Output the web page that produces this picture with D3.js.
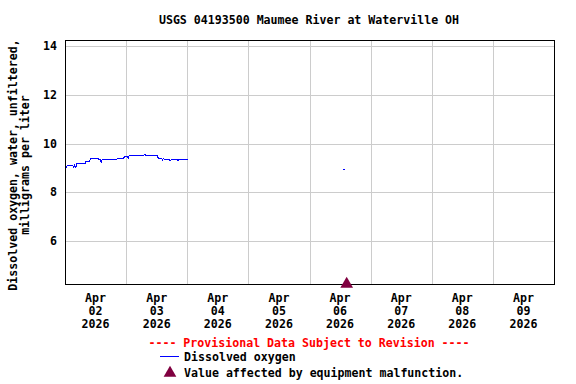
<!DOCTYPE html>
<html lang="en">
<head>
<meta charset="utf-8">
<title>USGS 04193500 Maumee River at Waterville OH</title>
<script src="https://cdn.jsdelivr.net/npm/d3@7"></script>
<style>
  body { margin: 0; background: #fff; }
  svg text { font-family: "DejaVu Sans Mono", "Liberation Mono", monospace; font-weight: bold; font-size: 11.6px; }
  .grid line { stroke: #cccccc; shape-rendering: crispEdges; }
  .grid path { display: none; }
  .series { shape-rendering: crispEdges; }
</style>
</head>
<body>
<script>
// hours after 2026-04-02 00:00 and dissolved oxygen (mg/L)
var hours = [0, 0.5, 1, 3, 3.5, 3.8, 4.3, 4.7, 8.0, 8.3, 9.6, 9.9, 10.5, 13, 13.2, 14, 14.2, 14.5,
  20.2, 20.5, 23, 23.3, 24.5, 24.8, 25.2, 31, 31.3, 31.7, 36.3, 36.6, 38, 38.3, 38.6, 39.3,
  41, 41.3, 41.8, 44, 44.3, 44.6, 48.3];
var oxygen = [9.10, 9.03, 9.12, 9.12, 9.02, 9.12, 9.02, 9.20, 9.20, 9.28, 9.28, 9.36, 9.40, 9.40, 9.33, 9.33, 9.22, 9.33,
  9.33, 9.38, 9.38, 9.46, 9.46, 9.40, 9.52, 9.52, 9.56, 9.52, 9.52, 9.40, 9.40, 9.33, 9.40, 9.34,
  9.34, 9.30, 9.34, 9.34, 9.30, 9.34, 9.34];
// lone reading on Apr 06
var loneHours = [109.3, 109.8];
var loneOxygen = [8.92, 8.92];
// equipment malfunction marker
var malfunctionHours = [110.6];
var yTicks = [6, 8, 10, 12, 14];
var dayLabels = ['2026-04-02', '2026-04-03', '2026-04-04', '2026-04-05', '2026-04-06', '2026-04-07', '2026-04-08', '2026-04-09'];

var width = 576, height = 384;
var margin = {left: 65, right: 22, top: 40, bottom: 100};
var start = Date.UTC(2026, 3, 2);
function toDate(h) { return new Date(start + h * 3600000); }

var svg = d3.select('body').append('svg')
  .attr('width', width)
  .attr('height', height);

var x = d3.scaleUtc()
  .domain([new Date(Date.UTC(2026, 3, 2)), new Date(Date.UTC(2026, 3, 10))])
  .range([margin.left, width - margin.right]);
var y = d3.scaleLinear()
  .domain([4.24, 14.25])
  .range([height - margin.bottom, margin.top]);

// grid
svg.append('g')
  .attr('class', 'grid')
  .attr('transform', 'translate(' + margin.left + ',0)')
  .call(d3.axisLeft(y).tickValues(yTicks).tickSize(-(width - margin.left - margin.right)).tickFormat(''));
svg.append('g')
  .attr('class', 'grid')
  .attr('transform', 'translate(0,' + margin.top + ')')
  .call(d3.axisBottom(x).ticks(d3.utcDay.every(1)).tickSize(height - margin.top - margin.bottom).tickFormat(''));

// y labels
svg.selectAll('.ylab')
  .data(yTicks)
  .enter()
  .append('text')
  .attr('class', 'ylab')
  .attr('x', 57)
  .attr('y', function(d) { return y(d) + 4; })
  .attr('text-anchor', 'end')
  .text(function(d) { return d; });

// x labels at noon of each day
var fmtMon = d3.utcFormat('%b'), fmtDay = d3.utcFormat('%d'), fmtYear = d3.utcFormat('%Y');
var xl = svg.selectAll('.xlab')
  .data(dayLabels)
  .enter()
  .append('text')
  .attr('class', 'xlab')
  .attr('text-anchor', 'middle')
  .attr('transform', function(d) {
    var t = new Date(d + 'T12:00:00Z');
    return 'translate(' + x(t) + ',0)';
  });
xl.each(function(d) {
  var t = new Date(d + 'T12:00:00Z');
  var sel = d3.select(this);
  sel.append('tspan').attr('x', 0).attr('y', 302).text(fmtMon(t));
  sel.append('tspan').attr('x', 0).attr('y', 315).text(fmtDay(t));
  sel.append('tspan').attr('x', 0).attr('y', 328).text(fmtYear(t));
});

// data line
var line = d3.line()
  .x(function(d) { return x(toDate(d[0])); })
  .y(function(d) { return y(d[1]); });
svg.append('path')
  .datum(d3.zip(hours, oxygen))
  .attr('class', 'series')
  .attr('d', line)
  .attr('fill', 'none')
  .attr('stroke', '#0000ff')
  .attr('stroke-width', 1);
svg.append('path')
  .datum(d3.zip(loneHours, loneOxygen))
  .attr('class', 'series')
  .attr('d', line)
  .attr('fill', 'none')
  .attr('stroke', '#0000ff')
  .attr('stroke-width', 1);

// frame
svg.append('rect')
  .attr('x', margin.left)
  .attr('y', margin.top)
  .attr('width', width - margin.left - margin.right)
  .attr('height', height - margin.top - margin.bottom)
  .attr('fill', 'none')
  .attr('stroke', '#000')
  .attr('stroke-width', 1)
  .attr('shape-rendering', 'crispEdges');

// malfunction markers
var tri = d3.symbol().type(d3.symbolTriangle).size(70);
svg.selectAll('.mal')
  .data(malfunctionHours)
  .enter()
  .append('path')
  .attr('class', 'mal')
  .attr('d', tri)
  .attr('transform', function(d) { return 'translate(' + x(toDate(d)) + ',' + (y.range()[0]) + ')'; })
  .attr('fill', '#800040');

// title
svg.append('text')
  .attr('x', 309)
  .attr('y', 24)
  .attr('text-anchor', 'middle')
  .text('USGS 04193500 Maumee River at Waterville OH');

// y title
var yt = svg.append('text')
  .attr('text-anchor', 'middle')
  .attr('transform', 'translate(0,165) rotate(-90)');
yt.append('tspan').attr('x', 0).attr('y', 17).text('Dissolved oxygen, water, unfiltered,');
yt.append('tspan').attr('x', 0).attr('y', 29).text('milligrams per liter');

// legend
svg.append('text')
  .attr('x', 309)
  .attr('y', 347)
  .attr('text-anchor', 'middle')
  .attr('fill', '#ff0000')
  .text('---- Provisional Data Subject to Revision ----');
svg.append('line')
  .attr('x1', 160).attr('x2', 179)
  .attr('y1', 356.5).attr('y2', 356.5)
  .attr('stroke', '#0000ff');
svg.append('text')
  .attr('x', 184)
  .attr('y', 361)
  .text('Dissolved oxygen');
svg.append('path')
  .attr('d', tri)
  .attr('transform', 'translate(170,373)')
  .attr('fill', '#800040');
svg.append('text')
  .attr('x', 184)
  .attr('y', 377)
  .text('Value affected by equipment malfunction.');
</script>
</body>
</html>
